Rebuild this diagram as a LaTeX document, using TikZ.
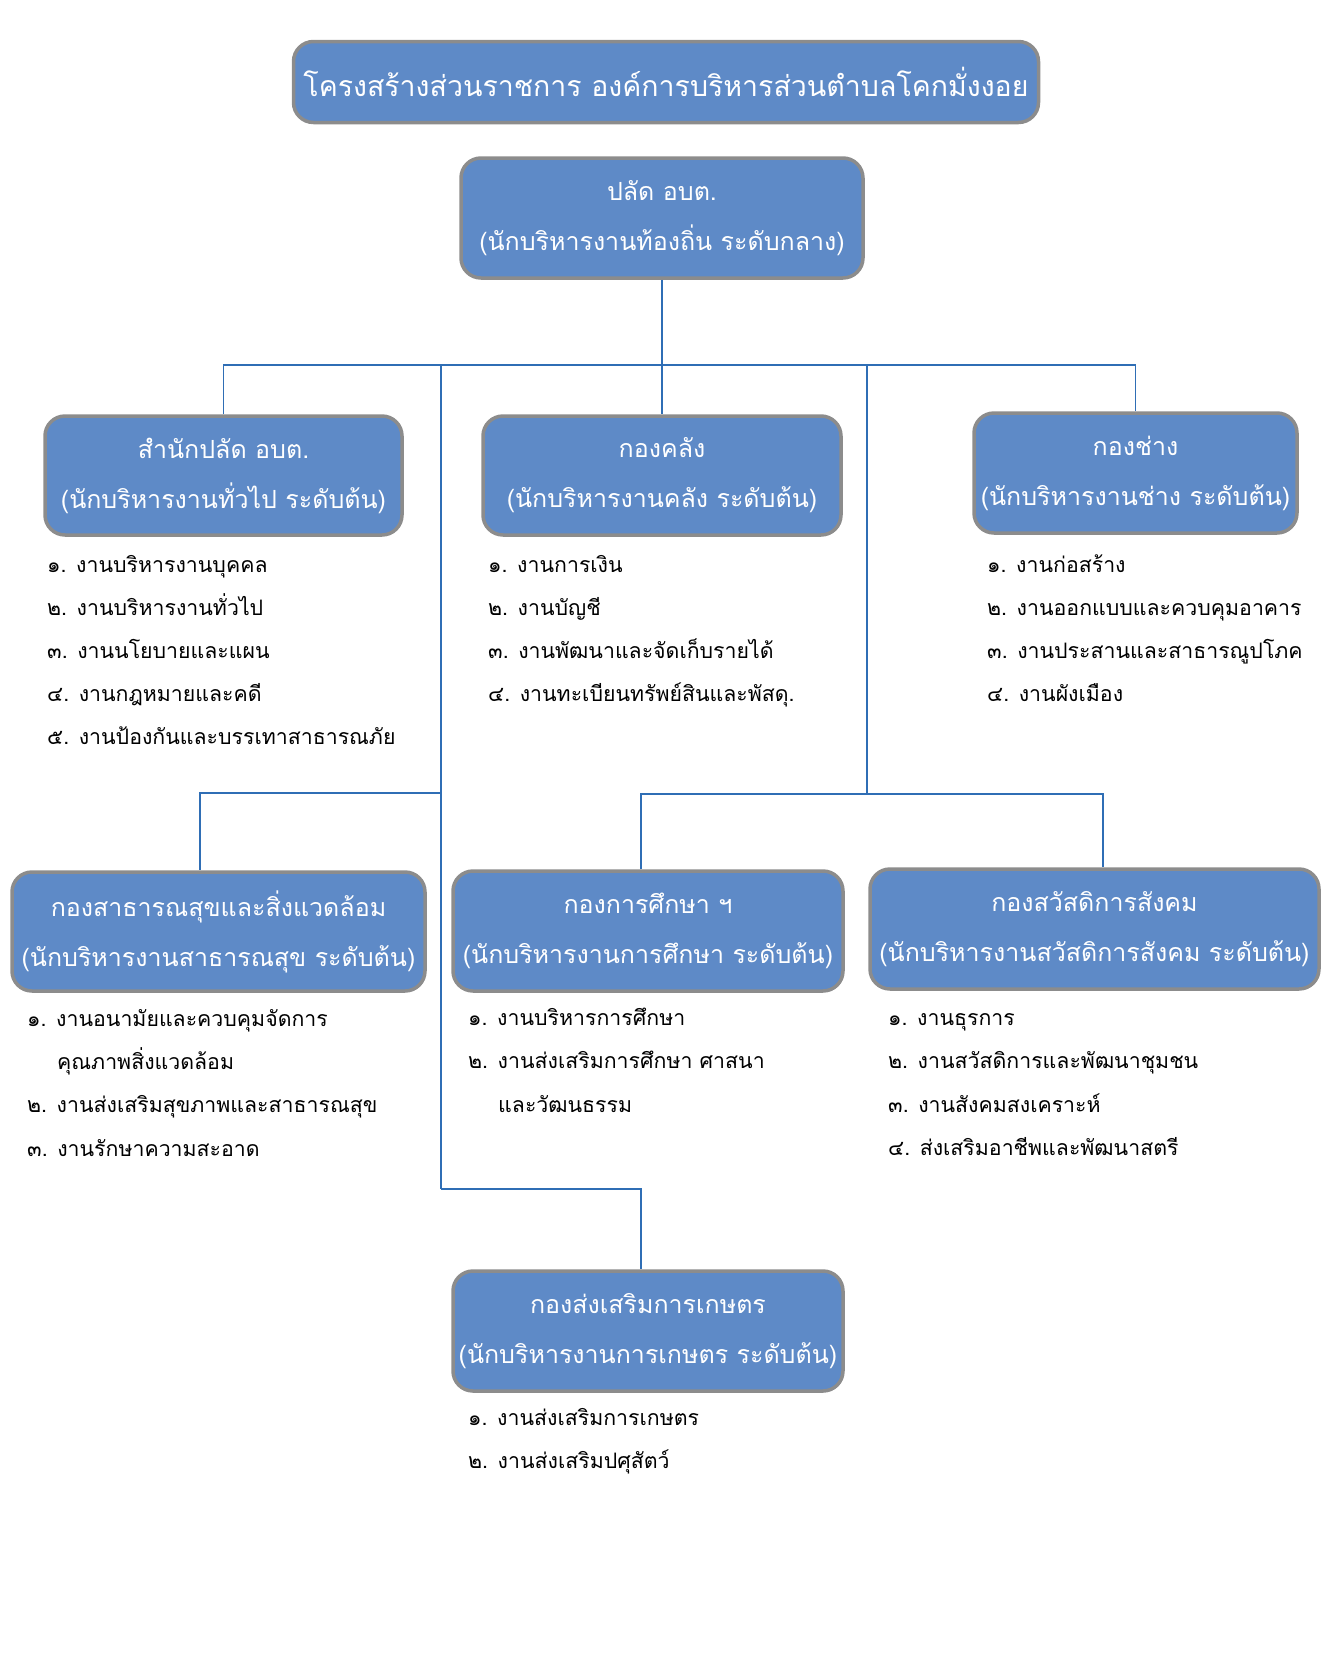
\documentclass[tikz,border=0pt]{standalone}
\usepackage{fontspec}
\newfontfamily\thaifont[Script=Thai]{Loma}
\definecolor{boxblue}{HTML}{5E8AC7}
\definecolor{boxrim}{HTML}{8C8C8C}
\definecolor{linkblue}{HTML}{2F6EB5}

\begin{document}
\begin{tikzpicture}[x=1pt, y=-1pt,
    unitbox/.style={draw=boxrim, line width=3.5pt, fill=boxblue, rounded corners=20pt,
      text=white, align=center, inner sep=0pt, font=\thaifont\fontsize{25}{50}\selectfont},
    taskitem/.style={anchor=base west, inner sep=0pt, font=\thaifont\fontsize{21.3}{43}\selectfont},
    link/.style={draw=linkblue, line width=1.5pt}]

                \useasboundingbox (0,0) rectangle (1323,1663);
                % title and chief
                \node [unitbox, minimum width=745, minimum height=81, font=\thaifont\fontsize{28.5}{50}\selectfont] (title) at (666,82)
                    {โครงสร้างส่วนราชการ องค์การบริหารส่วนตำบลโคกมั่งงอย};
                \node [unitbox, minimum width=402, minimum height=120] (chief) at (662,218)
                    {ปลัด อบต.\\(นักบริหารงานท้องถิ่น ระดับกลาง)};
                % first row
                \node [unitbox, minimum width=357, minimum height=119] (office) at (223.5,475.5)
                    {สำนักปลัด อบต.\\(นักบริหารงานทั่วไป ระดับต้น)};
                \node [unitbox, minimum width=358, minimum height=119] (finance) at (662,475.5)
                    {กองคลัง\\(นักบริหารงานคลัง ระดับต้น)};
                \node [unitbox, minimum width=323, minimum height=120] (works) at (1135.5,473)
                    {กองช่าง\\(นักบริหารงานช่าง ระดับต้น)};
                % second row
                \node [unitbox, minimum width=413, minimum height=119] (health) at (218.5,931.5)
                    {กองสาธารณสุขและสิ่งแวดล้อม\\(นักบริหารงานสาธารณสุข ระดับต้น)};
                \node [unitbox, minimum width=390, minimum height=120] (edu) at (648,931)
                    {กองการศึกษา ฯ\\(นักบริหารงานการศึกษา ระดับต้น)};
                \node [unitbox, minimum width=449, minimum height=120] (welfare) at (1094.5,929)
                    {กองสวัสดิการสังคม\\(นักบริหารงานสวัสดิการสังคม ระดับต้น)};
                % third row
                \node [unitbox, minimum width=390, minimum height=120] (agri) at (648,1331)
                    {กองส่งเสริมการเกษตร\\(นักบริหารงานการเกษตร ระดับต้น)};

                % connectors
                \coordinate (bus) at (662,365);
                \coordinate (lefttrunk) at (441,365);
                \coordinate (righttrunk) at (867,365);
                \coordinate (leftfork) at (441,793);
                \coordinate (rightfork) at (867,794);
                \coordinate (lowfork) at (441,1189);
                \draw [link] (chief.south) -- (finance.north);
                \draw [link] (office.north) |- (works.north |- bus) -- (works.north);
                \draw [link] (lefttrunk) -- (leftfork) -- (lowfork);
                \draw [link] (leftfork) -| ([xshift=-18.5]health.north);
                \draw [link] (righttrunk) -- (rightfork);
                \draw [link] ([xshift=-7]edu.north) |- (rightfork) -| ([xshift=8.5]welfare.north);
                \draw [link] (lowfork) -| ([xshift=-7]agri.north);

                % task lists
                \node [taskitem] (office1) at (47,572) {๑. งานบริหารงานบุคคล};
                \node [taskitem] (office2) at (47,615) {๒. งานบริหารงานทั่วไป};
                \node [taskitem] (office3) at (47,658) {๓. งานนโยบายและแผน};
                \node [taskitem] (office4) at (47,701) {๔. งานกฎหมายและคดี};
                \node [taskitem] (office5) at (47,744) {๕. งานป้องกันและบรรเทาสาธารณภัย};
                \node [taskitem] (finance1) at (488,572) {๑. งานการเงิน};
                \node [taskitem] (finance2) at (488,615) {๒. งานบัญชี};
                \node [taskitem] (finance3) at (488,658) {๓. งานพัฒนาและจัดเก็บรายได้};
                \node [taskitem] (finance4) at (488,701) {๔. งานทะเบียนทรัพย์สินและพัสดุ.};
                \node [taskitem] (works1) at (987,572) {๑. งานก่อสร้าง};
                \node [taskitem] (works2) at (987,615) {๒. งานออกแบบและควบคุมอาคาร};
                \node [taskitem] (works3) at (987,658) {๓. งานประสานและสาธารณูปโภค};
                \node [taskitem] (works4) at (987,701) {๔. งานผังเมือง};
                \node [taskitem] (health1) at (27,1026) {๑. งานอนามัยและควบคุมจัดการ};
                \node [taskitem] (health1b) at (57,1069) {คุณภาพสิ่งแวดล้อม};
                \node [taskitem] (health2) at (27,1112) {๒. งานส่งเสริมสุขภาพและสาธารณสุข};
                \node [taskitem] (health3) at (27,1156) {๓. งานรักษาความสะอาด};
                \node [taskitem] (edu1) at (468,1025) {๑. งานบริหารการศึกษา};
                \node [taskitem] (edu2) at (468,1068) {๒. งานส่งเสริมการศึกษา ศาสนา};
                \node [taskitem] (edu2b) at (498,1112) {และวัฒนธรรม};
                \node [taskitem] (welfare1) at (888,1025) {๑. งานธุรการ};
                \node [taskitem] (welfare2) at (888,1068) {๒. งานสวัสดิการและพัฒนาชุมชน};
                \node [taskitem] (welfare3) at (888,1112) {๓. งานสังคมสงเคราะห์};
                \node [taskitem] (welfare4) at (888,1155) {๔. ส่งเสริมอาชีพและพัฒนาสตรี};
                \node [taskitem] (agri1) at (468,1425) {๑. งานส่งเสริมการเกษตร};
                \node [taskitem] (agri2) at (468,1468) {๒. งานส่งเสริมปศุสัตว์};
            \end{tikzpicture}
\end{document}
